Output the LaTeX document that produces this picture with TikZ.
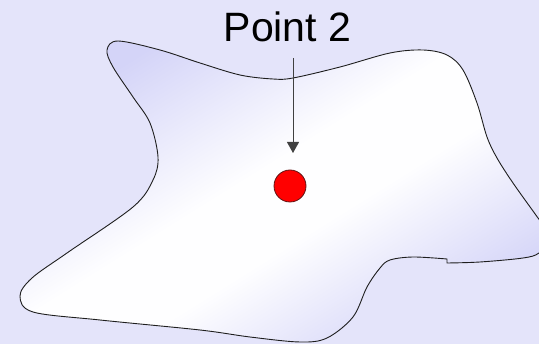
\documentclass[tikz,border=0pt]{standalone}
\usepackage{fontspec}
\setmainfont{Liberation Sans}
\usetikzlibrary{arrows.meta}
\definecolor{bgcol}{RGB}{228,228,250}
\definecolor{edgecol}{RGB}{212,212,248}
\definecolor{midcol}{RGB}{254,254,255}
\definecolor{linecol}{RGB}{30,30,30}
\pgfdeclareverticalshading{blobshade}{100bp}{color(0bp)=(edgecol); color(25bp)=(edgecol); color(44bp)=(midcol); color(54bp)=(midcol); color(75bp)=(edgecol); color(100bp)=(edgecol)}
\tikzset{
  blob/.style={draw=linecol, line width=0.9pt, shading=blobshade, shading angle=32},
  pointer/.style={draw=linecol!85!white, line width=0.9pt, -{Triangle[width=12pt,length=11pt]}},
  dot/.style={circle, draw=linecol!70!red, line width=0.8pt, fill=red, minimum size=32pt, inner sep=0pt},
  title/.style={font=\fontsize{41}{48}\selectfont, text=black, inner sep=0pt}
}
\begin{document}
\begin{tikzpicture}[x=1pt,y=-1pt]
\useasboundingbox (0,0) rectangle (539,344);
\clip (0,0) rectangle (539,344);
\fill[bgcol] (0,0) rectangle (539,344);
\shade[blob] plot[smooth, tension=0.55] coordinates {(447,259) (413,257) (390,260) (380,268) (367,287) (353,317) (327,338) (300,342) (250,337) (200,330) (100,320) (33,312) (20,296) (32,278) (67,253) (133,207) (153,180) (158,157) (150,123) (133,97) (113,67) (107,50) (118,41) (160,50) (200,63) (240,75) (273,79) (293,78) (340,67) (390,53) (423,50) (447,55) (463,70) (477,103) (487,137) (497,158) (513,183) (538,218) (552,238) (539,253) (523,258) (480,262) (447,263)} -- cycle;
\node[title, anchor=base] (label) at (287.5,42) {Point 2};
\node[dot] (pt) at (290,186) {};
\coordinate (a1) at (293,58);
\coordinate (a2) at (293,153);
\draw[pointer] (a1) -- (a2);
\end{tikzpicture}
\end{document}
